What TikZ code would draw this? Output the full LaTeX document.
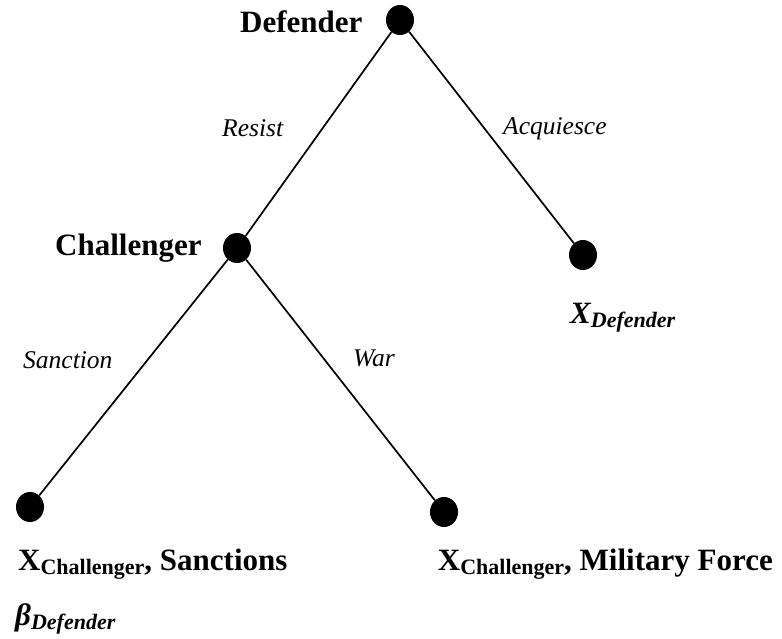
\documentclass[tikz,border=0pt]{standalone}
\usepackage{fontspec}
\setmainfont{Liberation Serif}
\usetikzlibrary{shapes.geometric}

% lowered, smaller subscript in running text
\newcommand{\lowsub}[1]{\raisebox{-4.5pt}{\fontsize{22}{26}\selectfont #1}}

\begin{document}
\begin{tikzpicture}[x=1pt,y=-1pt,
  gnode/.style={ellipse,fill=black,draw=none,minimum width=28pt,minimum height=30pt,inner sep=0pt},
  edge/.style={line width=1.7pt},
  player/.style={inner sep=0pt,font=\fontsize{31}{36}\selectfont\bfseries},
  move/.style={inner sep=0pt,font=\fontsize{25.5}{30}\selectfont\itshape},
  payoff/.style={inner sep=0pt,font=\fontsize{31}{36}\selectfont\bfseries}]
  \useasboundingbox (0,0) rectangle (782,639);

  % decision and terminal nodes
  \node[gnode] (def) at (400,20) {};
  \node[gnode] (cha) at (237,248) {};
  \node[gnode] (acq) at (583,255) {};
  \node[gnode] (san) at (30,507) {};
  \node[gnode] (war) at (444,512) {};

  % branches
  \draw[edge] (def) -- (cha);
  \draw[edge] (def) -- (acq);
  \draw[edge] (cha) -- (san);
  \draw[edge] (cha) -- (war);

  % players
  \node[player,anchor=base west] (ldef) at (240,33) {Defender};
  \node[player,anchor=base west] (lcha) at (55,255) {Challenger};

  % moves
  \node[move,anchor=base west] (mres) at (222,137) {Resist};
  \node[move,anchor=base west] (macq) at (503,135) {Acquiesce};
  \node[move,anchor=base west] (msan) at (23,368) {Sanction};
  \node[move,anchor=base west] (mwar) at (353,366) {War};

  % outcomes
  \node[payoff,anchor=base west] (pacq) at (570,323) {\itshape X\lowsub{Defender}};
  \node[payoff,anchor=base west] (psan) at (18,570) {X\lowsub{Challenger}, Sanctions};
  \node[payoff,anchor=base east] (pwar) at (773,570) {X\lowsub{Challenger}, Military Force};
  \node[payoff,anchor=base west] (pbeta) at (15,625) {\itshape β\lowsub{Defender}};
\end{tikzpicture}
\end{document}
